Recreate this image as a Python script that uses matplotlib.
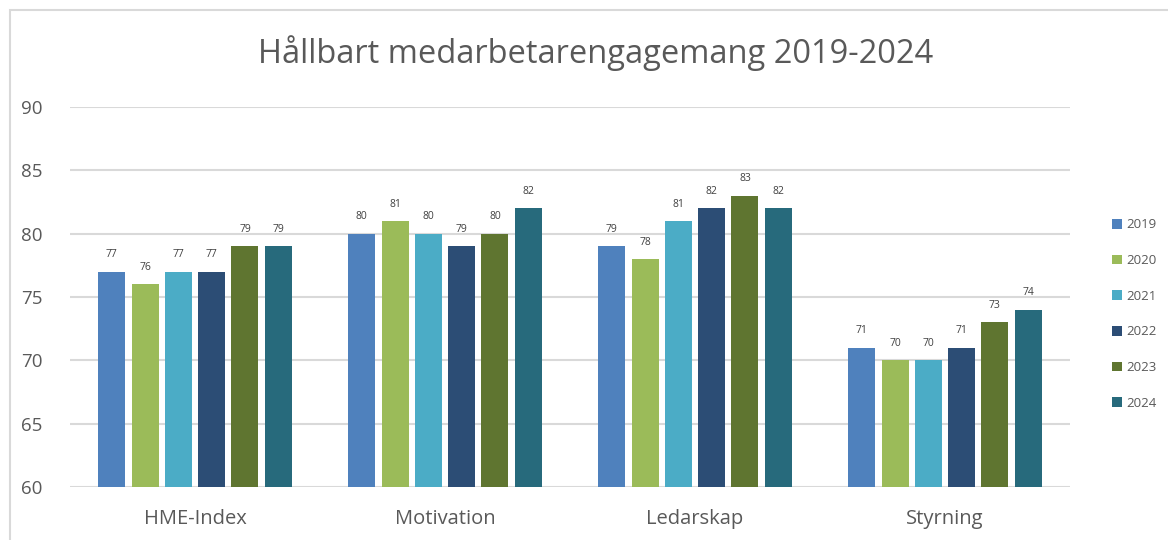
import matplotlib.pyplot as plt
import matplotlib.patches as mpatches
import numpy as np

categories = ["HME-Index", "Motivation", "Ledarskap", "Styrning"]
years = ["2019", "2020", "2021", "2022", "2023", "2024"]
values = {
    "2019": [77, 80, 79, 71],
    "2020": [76, 81, 78, 70],
    "2021": [77, 80, 81, 70],
    "2022": [77, 79, 82, 71],
    "2023": [79, 80, 83, 73],
    "2024": [79, 82, 82, 74],
}
colors = ["#4F81BD", "#9BBB59", "#4BACC6", "#2C4D75", "#5F7530", "#276A7C"]

plt.rcParams['font.family'] = ['Open Sans', 'DejaVu Sans']

fig = plt.figure(figsize=(11.68, 5.4), dpi=100)
W, H = 1168, 540
ax = fig.add_axes([70 / W, 1 - 487 / H, 1000 / W, 380 / H])

x = np.arange(len(categories))
step = 0.1333
width = 0.108
for i, yr in enumerate(years):
    pos = x + (i - 2.5) * step
    bars = ax.bar(pos, values[yr], width=width, color=colors[i], label=yr, zorder=3)
    for b, v in zip(bars, values[yr]):
        ax.text(b.get_x() + b.get_width() / 2, v + 0.9, str(v), ha='center', va='bottom',
                fontsize=7.5, color='#404040')

ax.set_ylim(60, 90)
ax.set_xlim(-0.5, 3.5)
ax.set_yticks(range(60, 91, 5))
ax.set_xticks(x)
ax.set_xticklabels(categories)
ax.yaxis.grid(True, color='#D9D9D9', linewidth=1.5, zorder=0)
for s in ax.spines.values():
    s.set_visible(False)
ax.tick_params(axis='both', length=0, colors='#595959')
ax.tick_params(axis='y', pad=20, labelsize=13.5)
ax.tick_params(axis='x', pad=16, labelsize=14.5)

fig.text(596 / W, 1 - 53 / H, "Hållbart medarbetarengagemang 2019-2024", ha='center', va='center',
         fontsize=23.5, color='#595959')

leg = ax.legend(loc='center left', bbox_to_anchor=(1.03, 0.455), frameon=False, fontsize=9.5,
                labelcolor='#595959', handlelength=0.75, handleheight=0.75, handletextpad=0.35,
                labelspacing=1.72)

frame = mpatches.Rectangle((10 / W, -0.05), 1.1, 1 - 10 / H + 0.05, transform=fig.transFigure,
                           fill=False, edgecolor='#D9D9D9', linewidth=1.5, clip_on=False)
fig.patches.append(frame)

fig.savefig("out.png", dpi=100)
